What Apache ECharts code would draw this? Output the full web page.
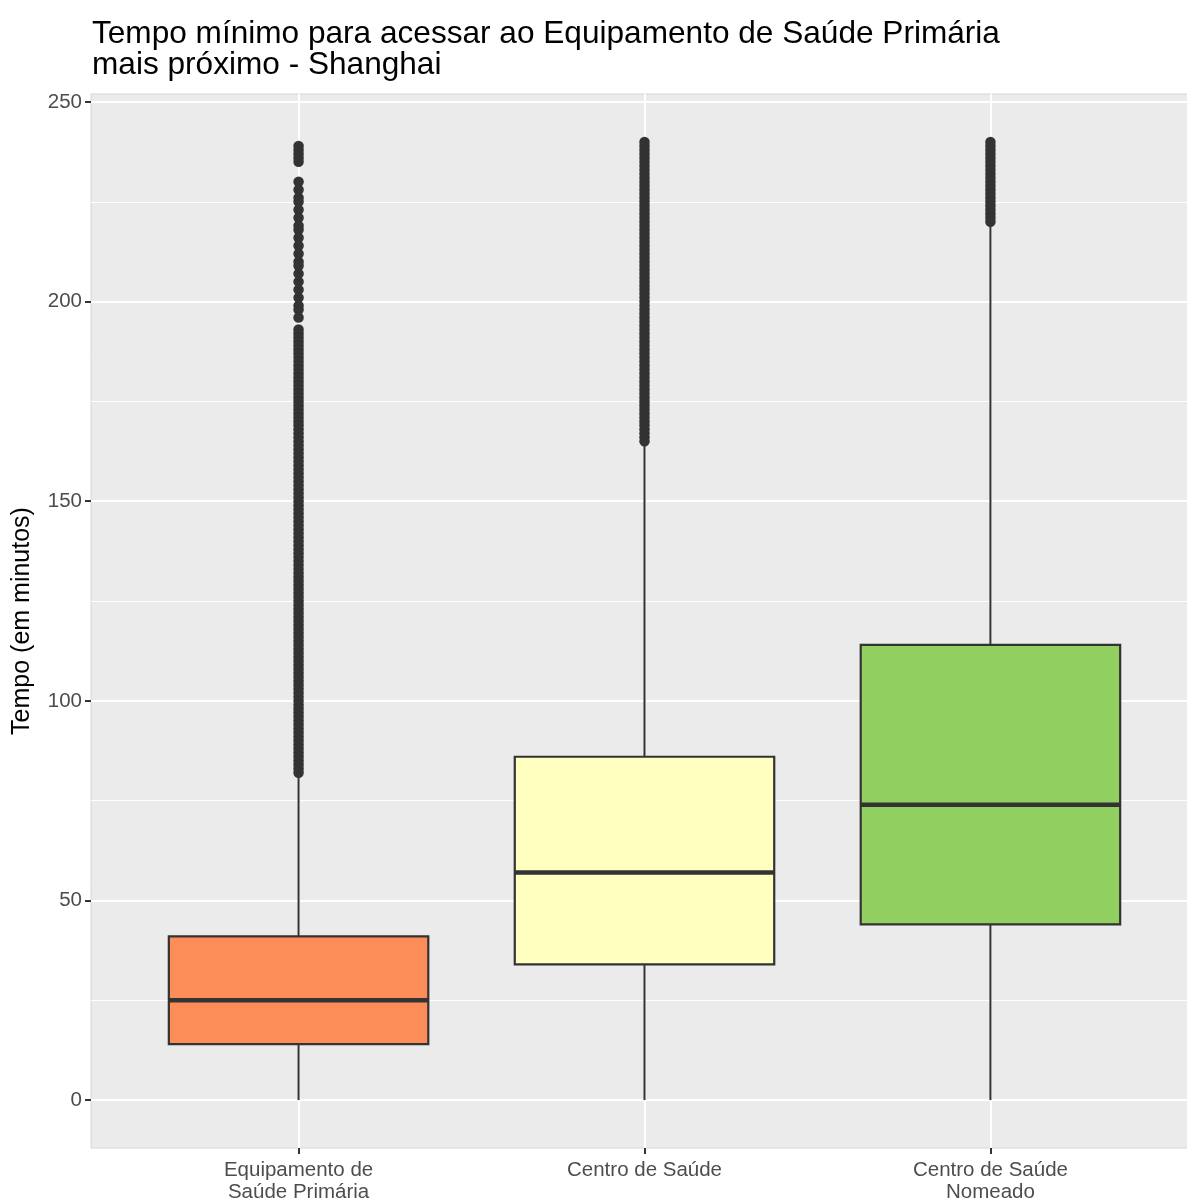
<!DOCTYPE html>
<html>
<head>
<meta charset="utf-8">
<script src="https://cdn.jsdelivr.net/npm/echarts@6/dist/echarts.min.js"></script>
<style>html,body{margin:0;padding:0;background:#fff}#c{width:1187px;height:1201px}</style>
</head>
<body>
<div id="c"></div>
<script>
const categories = ['Equipamento de\nSaúde Primária', 'Centro de Saúde', 'Centro de Saúde\nNomeado'];
const whiskerLow = [0, 0, 0];
const q1 = [14, 34, 44];
const median = [25, 57, 74];
const q3 = [41, 86, 114];
const whiskerHigh = [81, 164, 219];
const outliers1 = [239,238,237,236,235,230,228,226,225,223,221,219,218,216,214,212,210,209,207,205,203,201,199,198,196,193,192,191,190,189,188,187,186,185,184,183,182,181,180,179,178,177,176,175,174,173,172,171,170,169,168,167,166,165,164,163,162,161,160,159,158,157,156,155,154,153,152,151,150,149,148,147,146,145,144,143,142,141,140,139,138,137,136,135,134,133,132,131,130,129,128,127,126,125,124,123,122,121,120,119,118,117,116,115,114,113,112,111,110,109,108,107,106,105,104,103,102,101,100,99,98,97,96,95,94,93,92,91,90,89,88,87,86,85,84,83,82];
const outliers2 = [240,239,238,237,236,235,234,233,232,231,230,229,228,227,226,225,224,223,222,221,220,219,218,217,216,215,214,213,212,211,210,209,208,207,206,205,204,203,202,201,200,199,198,197,196,195,194,193,192,191,190,189,188,187,186,185,184,183,182,181,180,179,178,177,176,175,174,173,172,171,170,169,168,167,166,165];
const outliers3 = [240,239,238,237,236,235,234,233,232,231,230,229,228,227,226,225,224,223,222,221,220];
const yTicks = [0, 50, 100, 150, 200, 250];
const yMinorTicks = [25, 75, 125, 175, 225];

const boxColors = ['#FC8D59', '#FFFFBF', '#91CF60'];
const dark = '#333333';

const boxData = categories.map((c, i) => [i, whiskerLow[i], q1[i], median[i], q3[i], whiskerHigh[i]]);
const outlierData = []
  .concat(outliers1.map(v => [0, v]))
  .concat(outliers2.map(v => [1, v]))
  .concat(outliers3.map(v => [2, v]));

function renderBox(params, api) {
  const x = api.value(0);
  const lo = api.coord([x, api.value(1)]);
  const p1 = api.coord([x, api.value(2)]);
  const pm = api.coord([x, api.value(3)]);
  const p3 = api.coord([x, api.value(4)]);
  const hi = api.coord([x, api.value(5)]);
  const w = api.size([0.75, 0])[0];
  const half = w / 2;
  return {
    type: 'group',
    children: [
      {type: 'line', shape: {x1: lo[0], y1: lo[1], x2: p1[0], y2: p1[1]}, style: {stroke: dark, lineWidth: 2}},
      {type: 'line', shape: {x1: p3[0], y1: p3[1], x2: hi[0], y2: hi[1]}, style: {stroke: dark, lineWidth: 2}},
      {type: 'rect', shape: {x: p1[0] - half, y: p3[1], width: w, height: p1[1] - p3[1]},
        style: {fill: boxColors[params.dataIndex], stroke: dark, lineWidth: 2.2}},
      {type: 'line', shape: {x1: pm[0] - half, y1: pm[1], x2: pm[0] + half, y2: pm[1]}, style: {stroke: dark, lineWidth: 4.5}}
    ]
  };
}

const chart = echarts.init(document.getElementById('c'), null, {renderer: 'canvas'});
chart.setOption({
  animation: false,
  backgroundColor: '#ffffff',
  title: {
    text: 'Tempo mínimo para acessar ao Equipamento de Saúde Primária\nmais próximo - Shanghai',
    left: 92, top: 19, padding: 0,
    textStyle: {fontFamily: 'Liberation Sans', fontSize: 31.6, fontWeight: 'normal', color: '#000', lineHeight: 31}
  },
  grid: {
    left: 91, top: 94, width: 1107, height: 1054,
    outerBoundsMode: 'none', containLabel: false,
    show: true, backgroundColor: '#EBEBEB', borderColor: '#d6d6d6', borderWidth: 1
  },
  xAxis: {
    type: 'value', min: -0.6, max: 2.6,
    axisLine: {show: false, onZero: false},
    axisTick: {show: true, length: 6, lineStyle: {color: dark, width: 2}, customValues: [0, 1, 2]},
    axisLabel: {
      customValues: [0, 1, 2], margin: 11,
      formatter: v => categories[Math.round(v)],
      fontFamily: 'Liberation Sans', fontSize: 20.5, color: '#4D4D4D', lineHeight: 22.5
    },
    splitLine: {show: true, lineStyle: {color: '#ffffff', width: 2}}
  },
  yAxis: {
    type: 'value', min: -12, max: 252,
    name: 'Tempo (em minutos)', nameLocation: 'middle', nameGap: 56,
    nameTextStyle: {fontFamily: 'Liberation Sans', fontSize: 25, color: '#000'},
    axisLine: {show: false, onZero: false},
    axisTick: {show: true, length: 6, lineStyle: {color: dark, width: 2}, customValues: yTicks},
    axisLabel: {customValues: yTicks, margin: 9, fontFamily: 'Liberation Sans', fontSize: 20.5, color: '#4D4D4D'},
    splitLine: {show: true, lineStyle: {color: '#ffffff', width: 2}}
  },
  series: [
    {
      type: 'scatter', data: [], z: 1, silent: true,
      markLine: {
        silent: true, symbol: 'none', animation: false, z: 1,
        label: {show: false},
        lineStyle: {color: '#ffffff', width: 1, type: 'solid'},
        emphasis: {disabled: true},
        data: yMinorTicks.map(v => ({yAxis: v}))
      }
    },
    {
      type: 'custom', z: 2, silent: true,
      renderItem: renderBox,
      encode: {x: 0, y: [1, 2, 3, 4, 5]},
      data: boxData
    },
    {
      type: 'scatter', z: 3, silent: true,
      symbol: 'circle', symbolSize: 10.5,
      itemStyle: {color: dark, opacity: 1},
      data: outlierData
    }
  ]
});
</script>
</body>
</html>
